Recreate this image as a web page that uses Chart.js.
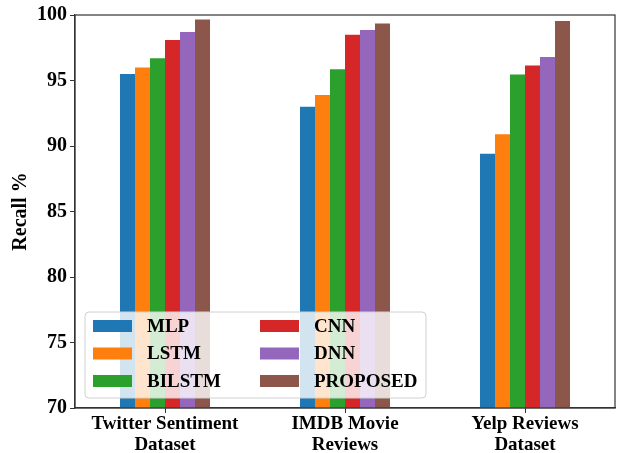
<!DOCTYPE html>
<html>
<head>
<meta charset="utf-8">
<script src="https://cdn.jsdelivr.net/npm/chart.js@4.4.1/dist/chart.umd.min.js"></script>
<style>
  html, body { margin: 0; padding: 0; background: #fff; }
  #wrap { width: 617px; height: 453px; }
</style>
</head>
<body>
<div id="wrap"><canvas id="c" width="617" height="453"></canvas></div>
<script>
// Datasets (x-axis groups)
const categories = [
  ["Twitter Sentiment", "Dataset"],
  ["IMDB Movie", "Reviews"],
  ["Yelp Reviews", "Dataset"]
];

// Recall (%) per model for each dataset
const mlp      = [95.5, 93.0, 89.4];
const lstm     = [96.0, 93.9, 90.9];
const bilstm   = [96.7, 95.85, 95.45];
const cnn      = [98.1, 98.5, 96.15];
const dnn      = [98.7, 98.85, 96.8];
const proposed = [99.65, 99.35, 99.55];

const yTicks = [70, 75, 80, 85, 90, 95, 100];

const FONT = "'Liberation Serif', 'Times New Roman', serif";

const series = [
  { label: "MLP",      data: mlp,      color: "#1f77b4" },
  { label: "LSTM",     data: lstm,     color: "#ff7f0e" },
  { label: "BILSTM",   data: bilstm,   color: "#2ca02c" },
  { label: "CNN",      data: cnn,      color: "#d62728" },
  { label: "DNN",      data: dnn,      color: "#9467bd" },
  { label: "PROPOSED", data: proposed, color: "#8c564b" }
];

// Frame around the plot area plus a two-column legend inside it
const framePlugin = {
  id: "frameAndLegend",
  afterDatasetsDraw(chart) {
    const { ctx, chartArea: a } = chart;
    ctx.save();

    // legend panel
    const lx = 85, ly = 312, lw = 341, lh = 86, r = 4;
    ctx.beginPath();
    ctx.moveTo(lx + r, ly);
    ctx.arcTo(lx + lw, ly, lx + lw, ly + lh, r);
    ctx.arcTo(lx + lw, ly + lh, lx, ly + lh, r);
    ctx.arcTo(lx, ly + lh, lx, ly, r);
    ctx.arcTo(lx, ly, lx + lw, ly, r);
    ctx.closePath();
    ctx.fillStyle = "rgba(255,255,255,0.8)";
    ctx.fill();
    ctx.strokeStyle = "#d0d0d0";
    ctx.lineWidth = 1;
    ctx.stroke();

    ctx.font = "bold 19px " + FONT;
    ctx.textBaseline = "middle";
    ctx.textAlign = "left";
    const rows = [326, 353.5, 381];
    const cols = [{ box: 93, text: 147 }, { box: 260, text: 314 }];
    chart.data.datasets.forEach((ds, i) => {
      const col = cols[Math.floor(i / 3)];
      const y = rows[i % 3];
      ctx.fillStyle = ds.backgroundColor;
      ctx.fillRect(col.box, y - 6, 39, 12);
      ctx.fillStyle = "#000";
      ctx.fillText(ds.label, col.text, y + 1);
    });

    // plot frame
    ctx.strokeStyle = "#333";
    ctx.lineWidth = 1.2;
    ctx.strokeRect(a.left, a.top, a.right - a.left, a.bottom - a.top);
    ctx.restore();
  }
};

new Chart(document.getElementById("c"), {
  type: "bar",
  data: {
    labels: categories,
    datasets: series.map(s => ({
      label: s.label,
      data: s.data,
      backgroundColor: s.color,
      borderWidth: 0,
      categoryPercentage: 0.5,
      barPercentage: 1.0
    }))
  },
  options: {
    responsive: false,
    animation: false,
    devicePixelRatio: 1,
    layout: { padding: { top: 14, right: 2, left: 0, bottom: 0 } },
    plugins: {
      legend: { display: false },
      tooltip: { enabled: false }
    },
    scales: {
      x: {
        grid: { display: true, offset: false, drawOnChartArea: false, drawTicks: true, tickLength: 5, color: "#333" },
        border: { display: true, color: "#333", width: 1.2 },
        ticks: {
          color: "#000",
          font: { family: FONT, size: 19, weight: "bold", lineHeight: 1.1 },
          maxRotation: 0,
          autoSkip: false,
          padding: 1
        },
        afterFit(scale) { scale.height = 45; }
      },
      y: {
        min: 70,
        max: 100,
        afterBuildTicks(scale) { scale.ticks = yTicks.map(v => ({ value: v })); },
        grid: { display: true, drawOnChartArea: false, drawTicks: true, tickLength: 5, color: "#333" },
        border: { display: true, color: "#333", width: 1.2 },
        ticks: {
          color: "#000",
          font: { family: FONT, size: 20, weight: "bold" },
          padding: 3
        },
        title: {
          display: true,
          text: "Recall %",
          color: "#000",
          font: { family: FONT, size: 20, weight: "bold" },
          padding: { top: 9, bottom: 0 }
        },
        afterFit(scale) { scale.width = 75; }
      }
    }
  },
  plugins: [framePlugin]
});
</script>
</body>
</html>
